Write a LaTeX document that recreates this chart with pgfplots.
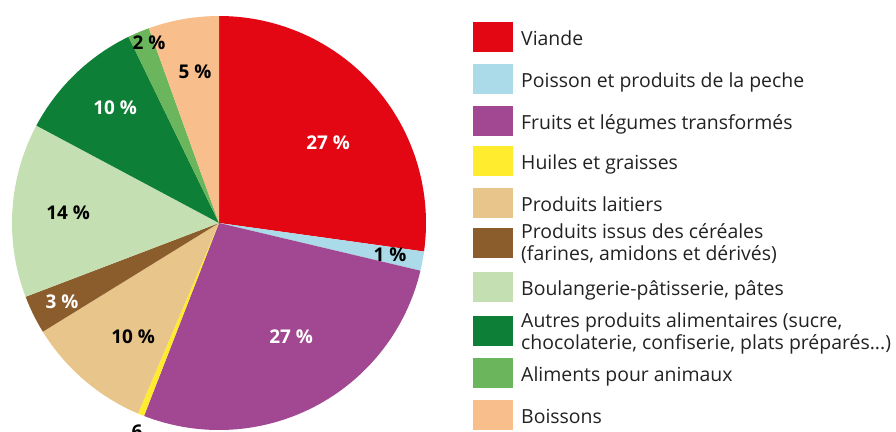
\documentclass[border=0pt]{standalone}
\usepackage{pgfplots}
\pgfplotsset{compat=1.18}
\usepackage{fontspec}
\setmainfont{Open Sans}
\definecolor{cViande}{HTML}{E30613}
\definecolor{cPoisson}{HTML}{ABDAE8}
\definecolor{cFruits}{HTML}{A24792}
\definecolor{cHuiles}{HTML}{FFEC2E}
\definecolor{cLait}{HTML}{E8C58A}
\definecolor{cCereal}{HTML}{8C5D2C}
\definecolor{cBoul}{HTML}{C4DFB2}
\definecolor{cAutres}{HTML}{0E7F37}
\definecolor{cAlim}{HTML}{6BB55C}
\definecolor{cBoiss}{HTML}{F8BE8B}
\definecolor{ctext}{HTML}{222222}
\begin{document}
\begin{tikzpicture}
\useasboundingbox (0,0) rectangle (896bp,-432bp);
\gdef\st{90}
\begin{axis}[
  at={(219bp,-223bp)}, anchor=origin,
  scale only axis, width=414bp, height=414bp,
  xmin=-1, xmax=1, ymin=-1, ymax=1,
  hide axis, clip=false,
]
\foreach \v/\c in {27.2/cViande, 1.5/cPoisson, 27.2/cFruits, 0.5/cHuiles, 9.8/cLait, 3.0/cCereal, 13.6/cBoul, 10.0/cAutres, 1.7/cAlim, 5.5/cBoiss} {
  \pgfmathsetmacro\e{\st-3.6*\v}
  \edef\temp{\noexpand\addplot[fill=\c, draw=none, domain=\e:\st, samples=80] ({cos(x)},{sin(x)}) -- (axis cs:0,0) -- cycle;}
  \temp
  \xdef\st{\e}
}
\begin{scope}[every node/.style={font=\fontsize{19}{22}\selectfont\bfseries}]
\node[white] at (axis cs:0.527,0.386) {27 \%};
\node[black] at (axis cs:0.826,-0.155) {1 \%};
\node[white] at (axis cs:0.348,-0.551) {27 \%};
\node[black] at (axis cs:-0.415,-0.551) {10 \%};
\node[white] at (axis cs:-0.758,-0.382) {3 \%};
\node[black] at (axis cs:-0.729,0.048) {14 \%};
\node[white] at (axis cs:-0.502,0.556) {10 \%};
\node[black] at (axis cs:-0.338,0.870) {2 \%};
\node[black] at (axis cs:-0.116,0.729) {5 \%};
\node[black] at (axis cs:-0.396,-1.01) {6};
\end{scope}
\end{axis}
% legend
\begin{scope}[every node/.style={font=\fontsize{19.5}{22}\selectfont, text=ctext, inner sep=0pt, anchor=base west}]
\foreach \y/\c in {37/cViande,79/cPoisson,121/cFruits,161/cHuiles,203/cLait,243/cCereal,287/cBoul,331/cAutres,373/cAlim,415/cBoiss}{
  \fill[\c] (473bp,-\y bp+15bp) rectangle (513bp,-\y bp-15bp);
}
\node at (521bp,-45bp) {Viande};
\node at (521bp,-87bp) {Poisson et produits de la peche};
\node at (521bp,-129bp) {Fruits et légumes transformés};
\node at (521bp,-169bp) {Huiles et graisses};
\node at (521bp,-211bp) {Produits laitiers};
\node at (521bp,-238bp) {Produits issus des céréales};
\node at (521bp,-260bp) {(farines, amidons et dérivés)};
\node at (521bp,-295bp) {Boulangerie-pâtisserie, pâtes};
\node at (521bp,-327bp) {Autres produits alimentaires (sucre,};
\node at (521bp,-349bp) {chocolaterie, confiserie, plats préparés...)};
\node at (521bp,-381bp) {Aliments pour animaux};
\node at (521bp,-423bp) {Boissons};
\end{scope}
\end{tikzpicture}
\end{document}
